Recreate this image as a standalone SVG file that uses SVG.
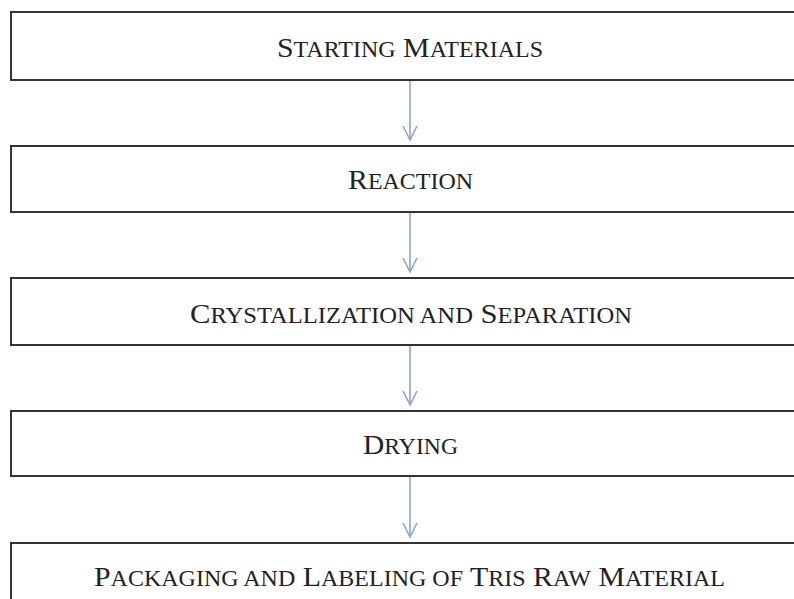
<svg xmlns="http://www.w3.org/2000/svg" width="794" height="599" viewBox="0 0 794 599">
<defs>
<style>
.box{fill:#fff;stroke:#333;stroke-width:2}
.lbl{font-family:"Liberation Serif","Times New Roman",serif;font-size:28px;fill:#222;text-anchor:middle}
.sc{font-size:22.5px}
.con{stroke:#8aa6cf;stroke-width:1.6;fill:none}
</style>
<marker id="ah" markerWidth="18" markerHeight="18" refX="15" refY="8" orient="auto" markerUnits="userSpaceOnUse">
<path d="M1,1 L15,8 L1,15" fill="none" stroke="#8aa6cf" stroke-width="1.6"/>
</marker>
</defs>
<rect width="794" height="599" fill="#fff"/>
<g id="connectors">
<line class="con" x1="410" y1="81" x2="410" y2="140" marker-end="url(#ah)"/>
<line class="con" x1="410" y1="213" x2="410" y2="272" marker-end="url(#ah)"/>
<line class="con" x1="410" y1="346" x2="410" y2="405" marker-end="url(#ah)"/>
<line class="con" x1="410" y1="477" x2="410" y2="537" marker-end="url(#ah)"/>
</g>
<g id="n1">
<rect class="box" x="11" y="12" width="800" height="68"/>
<text class="lbl" x="410" y="57" textLength="266" lengthAdjust="spacingAndGlyphs">S<tspan class="sc">TARTING</tspan> M<tspan class="sc">ATERIALS</tspan></text>
</g>
<g id="n2">
<rect class="box" x="11" y="146" width="800" height="66"/>
<text class="lbl" x="410.5" y="189" textLength="125" lengthAdjust="spacingAndGlyphs">R<tspan class="sc">EACTION</tspan></text>
</g>
<g id="n3">
<rect class="box" x="11" y="278" width="800" height="67"/>
<text class="lbl" x="411" y="323" textLength="442" lengthAdjust="spacingAndGlyphs">C<tspan class="sc">RYSTALLIZATION AND</tspan> S<tspan class="sc">EPARATION</tspan></text>
</g>
<g id="n4">
<rect class="box" x="11" y="411" width="800" height="65"/>
<text class="lbl" x="410.5" y="454" textLength="95" lengthAdjust="spacingAndGlyphs">D<tspan class="sc">RYING</tspan></text>
</g>
<g id="n5">
<rect class="box" x="11" y="543" width="800" height="70"/>
<text class="lbl" x="409.5" y="586" textLength="631" lengthAdjust="spacingAndGlyphs">P<tspan class="sc">ACKAGING AND</tspan> L<tspan class="sc">ABELING OF</tspan> T<tspan class="sc">RIS</tspan> R<tspan class="sc">AW</tspan> M<tspan class="sc">ATERIAL</tspan></text>
</g>
</svg>
